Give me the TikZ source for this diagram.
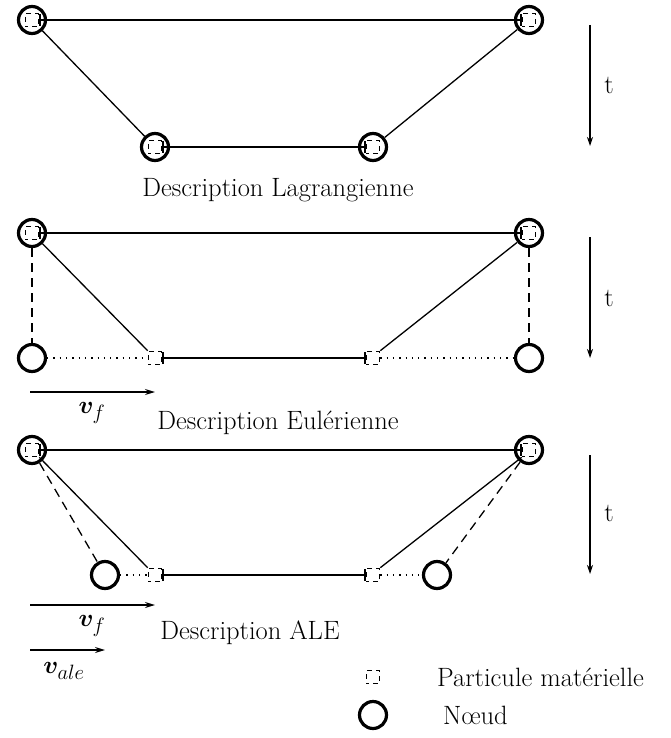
\documentclass[tikz,border=0pt]{standalone}
\usepackage{fontspec}
\usepackage{amsmath,bm}
\usetikzlibrary{arrows.meta}
\begin{document}
\begin{tikzpicture}[x=1pt,y=-1pt,font=\fontsize{26.5}{31}\selectfont,
  nd/.style={circle,draw,line width=3.2pt,minimum size=27pt,inner sep=0pt},
  pt/.style={rectangle,draw,line width=1.6pt,dash pattern=on 5pt off 4pt,dash phase=2.5pt,minimum size=13pt,inner sep=0pt},
  ln/.style={line width=1.3pt},
  barln/.style={line width=1.3pt,{Bar[width=12pt,line width=1.5pt]}-{Bar[width=12pt,line width=1.5pt]}},
  dsh/.style={line width=1.3pt,dash pattern=on 9pt off 6pt},
  dot/.style={line width=1.3pt,dash pattern=on 1.3pt off 5pt},
  tarr/.style={line width=1.1pt,-{Stealth[length=9pt,width=6pt]}},
  varr/.style={line width=1.3pt,-{Stealth[length=10pt,width=6pt]}},
  mlab/.style={font=\fontsize{29}{34}\selectfont}]
\useasboundingbox (0,0) rectangle (671,738);
% ---------- Panel 1: Lagrangian
\node[nd] (a1) at (32,20) {};
\node[nd] (b1) at (529,20) {};
\node[nd] (c1) at (155,147) {};
\node[nd] (d1) at (373,147) {};
\node[pt] (pa1) at (32,20) {};
\node[pt] (pb1) at (529,20) {};
\node[pt] (pc1) at (155,147) {};
\node[pt] (pd1) at (373,147) {};
\draw[barln] (pa1.east) -- (pb1.west);
\draw[barln] (pc1.east) -- (pd1.west);
\draw[ln] (a1) -- (c1);
\draw[ln] (b1) -- (d1);
\coordinate (t1s) at (590,25); \coordinate (t1e) at (590,146);
\draw[tarr] (t1s) -- (t1e);
\node (t1) at (609,85) {t};
\node (lab1) at (278,190) {Description Lagrangienne};
% ---------- Panel 2: Eulerian
\node[nd] (a2) at (32,233) {};
\node[nd] (b2) at (529,233) {};
\node[nd] (e2) at (32,358) {};
\node[nd] (f2) at (529,358) {};
\node[pt] (pa2) at (32,233) {};
\node[pt] (pb2) at (529,233) {};
\node[pt] (pc2) at (155,358) {};
\node[pt] (pd2) at (373,358) {};
\draw[barln] (pa2.east) -- (pb2.west);
\draw[barln] (pc2.east) -- (pd2.west);
\draw[ln] (a2) -- (pc2.north west);
\draw[ln] (b2) -- (pd2.north east);
\draw[dsh] (a2) -- (e2);
\draw[dsh] (b2) -- (f2);
\draw[dot] (e2) -- (pc2);
\draw[dot] (pd2) -- (f2);
\coordinate (t2s) at (590,237); \coordinate (t2e) at (590,358);
\draw[tarr] (t2s) -- (t2e);
\node (t2) at (609,298) {t};
\coordinate (v2s) at (30,392); \coordinate (v2e) at (155,392);
\draw[varr] (v2s) -- (v2e);
\node[mlab] (vf2) at (92,413) {$\bm{v}_f$};
\node (lab2) at (278,423) {Description Eulérienne};
% ---------- Panel 3: ALE
\node[nd] (a3) at (32,450) {};
\node[nd] (b3) at (529,450) {};
\node[nd] (e3) at (105,575) {};
\node[nd] (f3) at (437,575) {};
\node[pt] (pa3) at (32,450) {};
\node[pt] (pb3) at (529,450) {};
\node[pt] (pc3) at (155,575) {};
\node[pt] (pd3) at (373,575) {};
\draw[barln] (pa3.east) -- (pb3.west);
\draw[barln] (pc3.east) -- (pd3.west);
\draw[ln] (pa3.south east) -- (pc3.north west);
\draw[ln] (pb3.south west) -- (pd3.north east);
\draw[dsh] (a3) -- (e3);
\draw[dsh] (b3) -- (f3);
\draw[dot] (e3) -- (pc3);
\draw[dot] (pd3) -- (f3);
\coordinate (t3s) at (590,455); \coordinate (t3e) at (590,574);
\draw[tarr] (t3s) -- (t3e);
\node (t3) at (609,513) {t};
\coordinate (v3s) at (30,605); \coordinate (v3e) at (155,605);
\draw[varr] (v3s) -- (v3e);
\node[mlab] (vf3) at (92,626) {$\bm{v}_f$};
\coordinate (w3s) at (30,650); \coordinate (w3e) at (105,650);
\draw[varr] (w3s) -- (w3e);
\node[mlab] (va3) at (64,671) {$\bm{v}_{ale}$};
\node (lab3) at (250,633) {Description ALE};
% ---------- Legend
\node[pt] (lp) at (373,677) {};
\node[anchor=west,inner sep=0pt] (lpt) at (437,677) {Particule matérielle};
\node[nd] (ln) at (373,715) {};
\node[anchor=west,inner sep=0pt] (lnt) at (443,715) {N\oe ud};
\end{tikzpicture}
\end{document}
